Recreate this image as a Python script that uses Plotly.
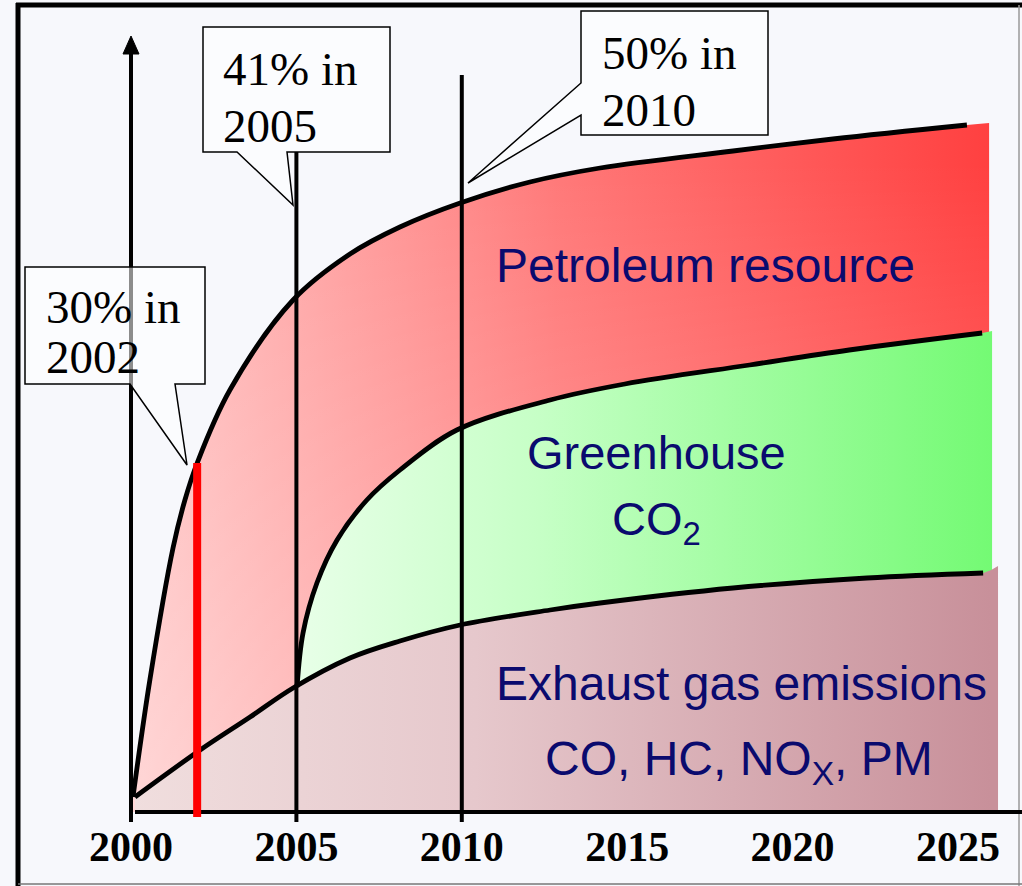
import plotly.graph_objects as go

# ---------------- data ----------------
# x = year, y = relative share (arbitrary height units, 0 = baseline)
petro_year = [2000.06, 2000.57, 2001.27, 2001.63, 2002.00, 2002.99, 2004.90, 2006.62,
              2008.13, 2009.95, 2012.06, 2014.18, 2018.20, 2021.22, 2025.27]
petro_val = [15, 132, 264, 312, 349, 422, 512, 558, 585, 609, 630, 644, 661, 673, 687]

green_year = [2005.02, 2005.20, 2005.62, 2006.23, 2007.13, 2008.13, 2009.85, 2012.67,
              2014.93, 2018.70, 2021.71, 2025.73]
green_val = [125, 179, 229, 272, 312, 342, 382, 412, 428, 447, 462, 479]

exh_year = [2000.12, 2002.09, 2003.60, 2004.90, 2006.62, 2008.13, 2009.95, 2012.67,
            2014.18, 2018.20, 2022.25, 2025.76]
exh_val = [15, 62, 95, 124, 154, 171, 187, 202, 209, 224, 234, 239]

# right edge of each coloured band (slightly beyond the line end)
petro_edge = (2025.94, 689)
green_edge = (2026.03, 481)
exh_edge = (2026.21, 246)

tick_years = [2000, 2005, 2010, 2015, 2020, 2025]
tick_text = ["2000", "2005", "2010", "2015", "2020", "2025"]
marker_years = [2000, 2005, 2010]
highlight_year = 2002
highlight_val = 349

# ---------------- geometry helpers (layout only) ----------------
W, H = 1022, 886
X0_PX, PX_PER_YEAR, BASE_PX = 131, 33.08, 812


def X(px):
    return 2000 + (px - X0_PX) / PX_PER_YEAR


def Y(py):
    return BASE_PX - py


NAVY = "#0a0a6e"

fig = go.Figure()

# coloured bands (drawn back to front)
fig.add_trace(go.Scatter(
    x=petro_year + [petro_edge[0]], y=petro_val + [petro_edge[1]],
    mode="lines", line=dict(width=0, shape="spline", smoothing=1), fill="tozeroy",
    fillgradient=dict(type="horizontal", start=2000, stop=2026,
                      colorscale=[[0, "#ffc6c6"], [0.2, "#ffa6a6"], [0.5, "#ff7878"],
                                  [1, "#ff4040"]]),
    hoverinfo="skip", showlegend=False))
fig.add_trace(go.Scatter(
    x=petro_year + [petro_edge[0]], y=petro_val + [petro_edge[1]],
    mode="lines", line=dict(width=0, shape="spline", smoothing=1), fill="tozeroy",
    fillgradient=dict(type="vertical", start=0, stop=650,
                      colorscale=[[0, "rgba(255,255,255,0.30)"],
                                  [1, "rgba(255,255,255,0)"]]),
    hoverinfo="skip", showlegend=False))
fig.add_trace(go.Scatter(
    x=green_year + [green_edge[0]], y=green_val + [green_edge[1]],
    mode="lines", line=dict(width=0, shape="spline", smoothing=1), fill="tozeroy",
    fillgradient=dict(type="horizontal", start=2005, stop=2026,
                      colorscale=[[0, "#e8ffe8"], [0.35, "#c6ffc6"], [1, "#74fa74"]]),
    hoverinfo="skip", showlegend=False))
fig.add_trace(go.Scatter(
    x=exh_year + [exh_edge[0]], y=exh_val + [exh_edge[1]],
    mode="lines", line=dict(width=0, shape="spline", smoothing=1), fill="tozeroy",
    fillgradient=dict(type="horizontal", start=2000, stop=2026,
                      colorscale=[[0, "#f0dede"], [0.4, "#e6c8cc"], [1, "#c8909a"]]),
    hoverinfo="skip", showlegend=False))

# black curves
for xs, ys in [(petro_year, petro_val), (green_year, green_val), (exh_year, exh_val)]:
    fig.add_trace(go.Scatter(x=xs, y=ys, mode="lines",
                             line=dict(color="black", width=4.8, shape="spline", smoothing=1),
                             hoverinfo="skip", showlegend=False))

shapes = []
# slide frame
shapes.append(dict(type="line", xref="x", yref="y", x0=X(18), x1=X(18), y0=Y(3), y1=Y(H),
                   line=dict(color="black", width=5)))
shapes.append(dict(type="line", xref="x", yref="y", x0=X(16), x1=X(W), y0=Y(5), y1=Y(5),
                   line=dict(color="black", width=5)))
shapes.append(dict(type="line", xref="x", yref="y", x0=X(1019), x1=X(1019), y0=Y(5), y1=Y(H),
                   line=dict(color="#9a9a9a", width=1.5)))
shapes.append(dict(type="line", xref="x", yref="y", x0=X(18), x1=X(W), y0=Y(884), y1=Y(884),
                   line=dict(color="#777777", width=1.5)))

# vertical marker lines
tops = {2000: Y(50), 2005: Y(152), 2010: Y(75)}
for yr in marker_years:
    shapes.append(dict(type="line", xref="x", yref="y", x0=yr, x1=yr, y0=-10, y1=tops[yr],
                       line=dict(color="black", width=4)))
# arrow head on the 2000 axis
shapes.append(dict(type="path", xref="x", yref="y",
                   path=f"M {X(131)},{Y(36)} L {X(139)},{Y(54)} L {X(123)},{Y(54)} Z",
                   fillcolor="black", line=dict(color="black", width=1)))
# horizontal axis line
shapes.append(dict(type="line", xref="x", yref="y", x0=X(135), x1=X(W), y0=0, y1=0,
                   line=dict(color="black", width=4)))
# red 2002 marker
shapes.append(dict(type="line", xref="x", yref="y", x0=highlight_year, x1=highlight_year,
                   y0=-5, y1=highlight_val, line=dict(color="#ff0000", width=8)))


def pt(px, py):
    return f"{X(px)},{Y(py)}"


def callout_bottom(x0, y0, x1, y1, wa, wb, tip):
    return (f"M {pt(x0, y0)} L {pt(x1, y0)} L {pt(x1, y1)} L {pt(wb, y1)} "
            f"L {pt(*tip)} L {pt(wa, y1)} L {pt(x0, y1)} Z")


def callout_left(x0, y0, x1, y1, wa, wb, tip):
    return (f"M {pt(x0, y0)} L {pt(x1, y0)} L {pt(x1, y1)} L {pt(x0, y1)} "
            f"L {pt(x0, wb)} L {pt(*tip)} L {pt(x0, wa)} Z")


box_style = dict(type="path", xref="x", yref="y", fillcolor="rgba(255,255,255,0.55)",
                 line=dict(color="black", width=1.5))
shapes.append(dict(box_style, path=callout_bottom(25, 267, 205, 384, 130, 175, (187, 465))))
shapes.append(dict(box_style, path=callout_bottom(203, 27, 390, 152, 237, 287, (293, 205))))
shapes.append(dict(box_style, path=callout_left(581, 11, 768, 135, 83, 115, (468, 183))))

annotations = []


def serif(text, px, py):
    annotations.append(dict(x=X(px), y=Y(py), xref="x", yref="y", text=text, showarrow=False,
                            xanchor="left", yanchor="middle",
                            font=dict(family="Liberation Serif", size=47, color="black")))


serif("30% in", 44, 307)
serif("2002", 44, 357)
serif("41% in", 221, 69)
serif("2005", 221, 126)
serif("50% in", 600, 53)
serif("2010", 600, 110)


def label(text, px, py, size=48):
    annotations.append(dict(x=X(px), y=Y(py), xref="x", yref="y", text=text, showarrow=False,
                            xanchor="center", yanchor="middle",
                            font=dict(family="Liberation Sans", size=size, color=NAVY)))


label("Petroleum resource", 705, 265)
label("Greenhouse", 656, 452, 47)
label("CO<sub>2</sub>", 656, 522, 47)
label("Exhaust gas emissions", 741, 683)
label("CO, HC, NO<sub>X</sub>, PM", 739, 762)

fig.update_layout(
    width=W, height=H, margin=dict(l=0, r=0, t=0, b=0),
    paper_bgcolor="#f7f8fc", plot_bgcolor="#f7f8fc",
    shapes=shapes, annotations=annotations, showlegend=False,
    xaxis=dict(range=[X(0), X(W)], anchor="free", position=(H - BASE_PX) / H,
               tickvals=tick_years, ticktext=tick_text, ticks="", showgrid=False,
               zeroline=False, showline=False, ticklabelstandoff=6,
               tickfont=dict(family="Liberation Serif", size=42, color="black", weight="bold")),
    yaxis=dict(range=[Y(H), Y(0)], visible=False, domain=[0, 1]),
)

fig.write_html("out.html", config={"displayModeBar": False},
               post_script="document.body.style.margin='0';")
